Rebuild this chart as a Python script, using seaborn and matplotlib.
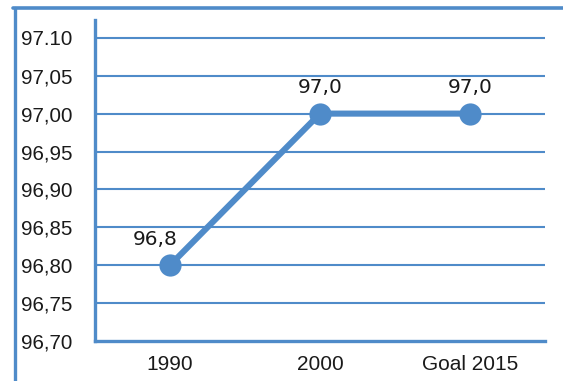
import matplotlib
matplotlib.use("Agg")
import matplotlib.pyplot as plt
from matplotlib.lines import Line2D
import seaborn as sns
import pandas as pd

# Data
categories = ["1990", "2000", "Goal 2015"]
values = [96.8, 97.0, 97.0]
value_labels = ["96,8", "97,0", "97,0"]
ytick_values = [96.70, 96.75, 96.80, 96.85, 96.90, 96.95, 97.00, 97.05, 97.10]
ytick_labels = ["96,70", "96,75", "96,80", "96,85", "96,90", "96,95", "97,00", "97,05", "97.10"]

BLUE = "#4F8BC9"

sns.set_theme(style="white")
plt.rcParams["font.family"] = ["Liberation Sans", "DejaVu Sans"]

fig = plt.figure(figsize=(5.63, 3.81), dpi=100)
ax = fig.add_axes([95 / 563, 40 / 381, 450 / 563, 321 / 381])

df = pd.DataFrame({"x": range(len(categories)), "y": values})
sns.lineplot(data=df, x="x", y="y", ax=ax, color=BLUE, linewidth=4.4,
             marker="o", markersize=16, markeredgewidth=0, zorder=5)

# Value labels above points
offsets = [(-11, 12), (0, 12), (0, 12)]
for xi, yi, lab, off in zip(df["x"], df["y"], value_labels, offsets):
    ax.annotate(lab, (xi, yi), xytext=off, textcoords="offset points",
                ha="center", va="bottom", fontsize=14.5, color="#1a1a1a",
                family=["DejaVu Sans"], zorder=6)

ax.set_xlim(-0.5, len(categories) - 0.5)
ax.set_ylim(96.70, 97.1235)

# Y axis ticks and grid
ax.set_yticks(ytick_values)
ax.set_yticklabels(ytick_labels)
for yv in ytick_values[1:]:
    ax.axhline(yv, color=BLUE, linewidth=1.5, zorder=1)
ax.tick_params(axis="y", which="major", direction="out", length=9.5, width=1.1,
               color=BLUE, labelsize=14.8, pad=7, labelcolor="#1a1a1a")

# X axis: labels centred, tick marks on category boundaries
ax.set_xticks(range(len(categories)))
ax.set_xticklabels(categories)
ax.set_xticks([i - 0.5 for i in range(len(categories) + 1)], minor=True)
ax.tick_params(axis="x", which="major", length=0, labelsize=15, pad=10,
               labelcolor="#1a1a1a")
ax.tick_params(axis="x", which="minor", direction="out", length=8, width=2.2,
               color=BLUE)

ax.set_xlabel("")
ax.set_ylabel("")

for side in ["top", "right"]:
    ax.spines[side].set_visible(False)
for side in ["left", "bottom"]:
    ax.spines[side].set_color(BLUE)
    ax.spines[side].set_linewidth(2.4)
ax.spines["bottom"].set_zorder(3)

# Outer frame (left and top edges)
fig.add_artist(Line2D([14.5 / 563, 14.5 / 563], [0, 1 - 7.5 / 381],
                      transform=fig.transFigure, color=BLUE, linewidth=2.4))
fig.add_artist(Line2D([13 / 563, 1], [1 - 7.5 / 381, 1 - 7.5 / 381],
                      transform=fig.transFigure, color=BLUE, linewidth=2.6))

fig.savefig("out.png", dpi=100)
